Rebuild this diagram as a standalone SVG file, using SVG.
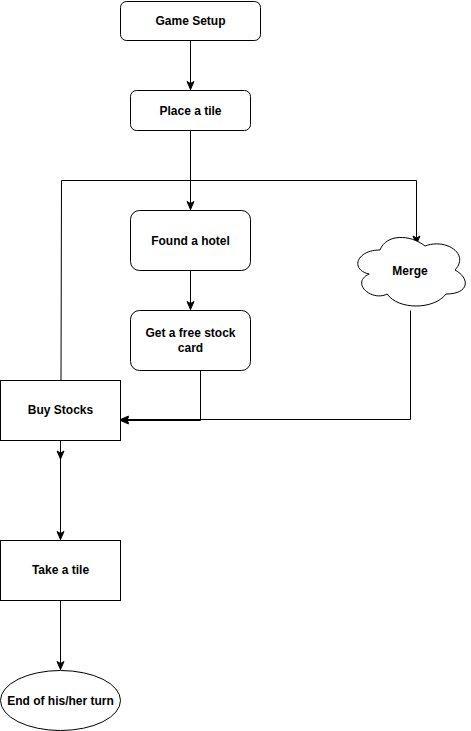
<svg xmlns="http://www.w3.org/2000/svg" width="471" height="731" viewBox="0 0 471 731">
<style>
.n{fill:#fff;stroke:#000;stroke-width:1}
.t{font-family:"Liberation Sans",Arial,sans-serif;font-size:12px;font-weight:bold;fill:#000;text-anchor:middle;dominant-baseline:central}
.e{fill:none;stroke:#000;stroke-width:1}
</style>
<defs>
<marker id="a" markerUnits="userSpaceOnUse" markerWidth="10" markerHeight="10" viewBox="0 0 10 10" refX="9" refY="5" orient="auto">
<path d="M1,1.5 L9,5 L1,8.5 L3,5 Z" fill="#000" stroke="#000" stroke-width="1"/>
</marker>
</defs>
<rect width="471" height="731" fill="#fff"/>
<g id="connectors">
<path class="e" d="M190.5,40.5 V89.5" marker-end="url(#a)"/>
<path class="e" d="M190.5,130.5 V209.5" marker-end="url(#a)"/>
<path class="e" d="M190.5,270.5 V309.5" marker-end="url(#a)"/>
<path class="e" d="M200.5,370.5 V420.5 H120.5" marker-end="url(#a)"/>
<path class="e" d="M410.5,310.5 V419.5 H120.5" marker-end="url(#a)"/>
<path class="e" d="M61,380.5 L61.5,180.5 H416.5 V244" marker-end="url(#a)"/>
<path class="e" d="M60.5,440.5 V459" marker-end="url(#a)"/>
<path class="e" d="M60.5,459 V539.5" marker-end="url(#a)"/>
<path class="e" d="M60.5,600.5 V669.5" marker-end="url(#a)"/>
</g>
<g id="game-setup">
<rect class="n" x="120.5" y="1.5" width="140" height="39" rx="6"/>
<text class="t" x="190.5" y="21">Game Setup</text>
</g>
<g id="place-tile">
<rect class="n" x="130.5" y="90.5" width="120" height="40" rx="6"/>
<text class="t" x="190.5" y="110.5">Place a tile</text>
</g>
<g id="found-hotel">
<rect class="n" x="130.5" y="210.5" width="120" height="60" rx="9"/>
<text class="t" x="190.5" y="240.5">Found a hotel</text>
</g>
<g id="free-stock">
<rect class="n" x="130.5" y="310.5" width="120" height="60" rx="9"/>
<text class="t" x="190.5" y="333">Get a free stock</text>
<text class="t" x="190.5" y="348">card</text>
</g>
<g id="merge">
<path class="n" d="M380,250 C356,250 350,270 369.2,274 C350,282.8 371.6,302 387.2,294 C398,310 434,310 446,294 C470,294 470,278 455,270 C470,254 446,238 425,246 C410,234 386,234 380,250 Z"/>
<text class="t" x="410" y="270.5">Merge</text>
</g>
<g id="buy-stocks">
<rect class="n" x="0.5" y="380.5" width="120" height="60"/>
<text class="t" x="60.5" y="410">Buy Stocks</text>
</g>
<g id="take-tile">
<rect class="n" x="0.5" y="540.5" width="120" height="60"/>
<text class="t" x="60.5" y="570">Take a tile</text>
</g>
<g id="end-turn">
<ellipse class="n" cx="60.5" cy="700.5" rx="60" ry="30"/>
<text class="t" x="60.5" y="700.5">End of his/her turn</text>
</g>
</svg>
